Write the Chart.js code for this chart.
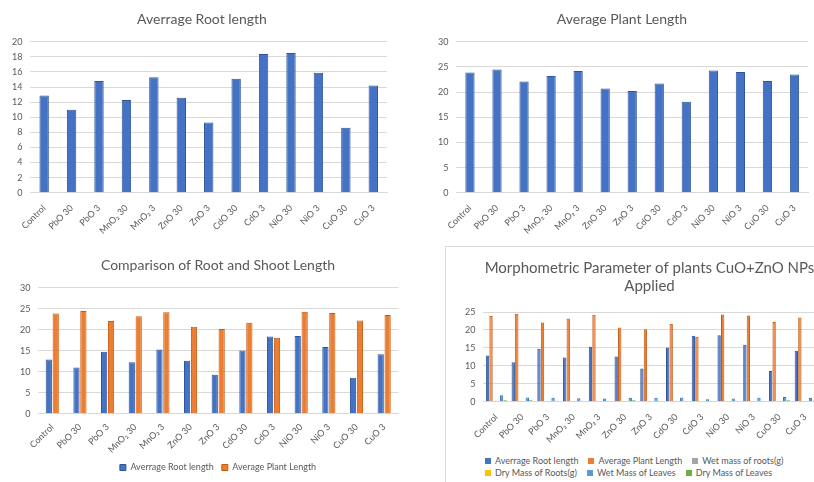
<!DOCTYPE html>
<html>
<head>
<meta charset="utf-8">
<script src="https://cdn.jsdelivr.net/npm/chart.js@4.4.1/dist/chart.umd.min.js"></script>
<style>
  body { margin: 0; width: 814px; height: 482px; overflow: hidden; position: relative; background: #fff; font-family: Lato, sans-serif; }
  .pane { position: absolute; }
  #frame { position: absolute; left: 445px; top: 246px; width: 420px; height: 260px; border: 1px solid #d9d9d9; }
  #legend4 { position: absolute; left: 485px; top: 455px; width: 320px; display: flex; flex-wrap: wrap; font-size: 9px; color: #595959; row-gap: 1px; }
  #legend4 span.item { display: inline-flex; align-items: center; margin-right: 10px; white-space: nowrap; }
  #legend4 span.sw { display: inline-block; width: 6px; height: 6px; margin-right: 4px; }
</style>
</head>
<body>
<div id="frame"></div>
<div class="pane" style="left:0;top:0;width:400px;height:240px"><canvas id="rootChart"></canvas></div>
<div class="pane" style="left:430px;top:0;width:384px;height:240px"><canvas id="plantChart"></canvas></div>
<div class="pane" style="left:0;top:240px;width:424px;height:242px"><canvas id="compareChart"></canvas></div>
<div class="pane" style="left:446px;top:247px;width:396px;height:200px"><canvas id="morphChart"></canvas></div>
<div id="legend4"></div>
<script>
// dane
const categories = ['Control', 'PbO 30', 'PbO 3', 'MnO₂ 30', 'MnO₂ 3', 'ZnO 30', 'ZnO 3', 'CdO 30', 'CdO 3', 'NiO 30', 'NiO 3', 'CuO 30', 'CuO 3'];
const rootLength = [12.9, 11.0, 14.8, 12.3, 15.3, 12.6, 9.3, 15.1, 18.4, 18.5, 15.9, 8.6, 14.2];
const plantLength = [23.9, 24.5, 22.1, 23.2, 24.2, 20.7, 20.2, 21.7, 18.1, 24.3, 24.0, 22.2, 23.5];
const wetMassRoots = [0.3, 0.2, 0.2, 0.2, 0.2, 0.2, 0.2, 0.2, 0.1, 0.2, 0.2, 0.2, 0.2];
const dryMassRoots = [0.1, 0.1, 0.1, 0.1, 0.1, 0.1, 0.1, 0.1, 0.05, 0.1, 0.1, 0.1, 0.1];
const wetMassLeaves = [1.8, 1.2, 1.1, 1.0, 0.9, 1.1, 1.1, 1.2, 0.7, 0.9, 1.1, 1.3, 1.1];
const dryMassLeaves = [0.4, 0.4, 0.3, 0.3, 0.3, 0.4, 0.3, 0.3, 0.2, 0.3, 0.3, 0.4, 0.3];

const gray = '#595959';
const gridColor = '#d9d9d9';
const tickFont = { family: 'Lato', size: 9 };

function axes(max, step, rightGap, xPad) {
  return {
    x: {
      grid: { display: false },
      border: { color: gridColor },
      ticks: { color: gray, font: tickFont, minRotation: 45, maxRotation: 45, autoSkip: false, padding: xPad }
    },
    y: {
      min: 0, max: max,
      grid: { color: gridColor, drawTicks: false },
      border: { display: false },
      ticks: { color: gray, font: tickFont, stepSize: step, padding: 8 }
    },
    pad: {
      position: 'right',
      display: true,
      grid: { display: false },
      border: { display: false },
      ticks: { display: false },
      afterFit: (s) => { s.width = rightGap; }
    }
  };
}

function title(text, top, bottom) {
  return {
    display: true,
    text: text,
    color: gray,
    font: { family: 'Lato', size: 14, weight: 'normal' },
    padding: { top: top, bottom: bottom }
  };
}

//AVERAGE ROOT LENGTH//////////////////////////////
new Chart(document.getElementById('rootChart'), {
  type: 'bar',
  data: {
    labels: categories,
    datasets: [{
      label: 'Averrage Root length',
      data: rootLength,
      backgroundColor: '#4472c4',
      borderColor: '#2f5597',
      borderWidth: 1,
      barPercentage: 0.9,
      categoryPercentage: 0.38
    }]
  },
  options: {
    responsive: true, maintainAspectRatio: false, animation: false,
    layout: { padding: { left: 4, bottom: 2 } },
    scales: axes(20, 2, 13, 2),
    plugins: { legend: { display: false }, title: title('Averrage Root length', 11, 14), tooltip: { enabled: false } }
  }
});

//AVERAGE PLANT LENGTH//////////////////////////////
new Chart(document.getElementById('plantChart'), {
  type: 'bar',
  data: {
    labels: categories,
    datasets: [{
      label: 'Average Plant Length',
      data: plantLength,
      backgroundColor: '#4472c4',
      borderColor: '#2f5597',
      borderWidth: 1,
      barPercentage: 0.9,
      categoryPercentage: 0.38
    }]
  },
  options: {
    responsive: true, maintainAspectRatio: false, animation: false,
    layout: { padding: { left: 0, bottom: 2 } },
    scales: axes(30, 5, 6, 2),
    plugins: { legend: { display: false }, title: title('Average Plant Length', 11, 14), tooltip: { enabled: false } }
  }
});

//COMPARISON//////////////////////////////
new Chart(document.getElementById('compareChart'), {
  type: 'bar',
  data: {
    labels: categories,
    datasets: [
      {
        label: 'Averrage Root length',
        data: rootLength,
        backgroundColor: '#4472c4',
        borderColor: '#2f5597',
        borderWidth: 1,
        barPercentage: 0.9,
        categoryPercentage: 0.5
      },
      {
        label: 'Average Plant Length',
        data: plantLength,
        backgroundColor: '#ed7d31',
        borderColor: '#c55a11',
        borderWidth: 1,
        barPercentage: 0.9,
        categoryPercentage: 0.5
      }
    ]
  },
  options: {
    responsive: true, maintainAspectRatio: false, animation: false,
    layout: { padding: { left: 12, bottom: 0 } },
    scales: axes(30, 5, 26, 0),
    plugins: {
      legend: {
        position: 'bottom',
        labels: { color: gray, font: { family: 'Lato', size: 9 }, boxWidth: 6, boxHeight: 6, padding: 8 }
      },
      title: title('Comparison of Root and Shoot Length', 17, 14),
      tooltip: { enabled: false }
    }
  }
});

//MORPHOMETRIC//////////////////////////////
const morphChart = new Chart(document.getElementById('morphChart'), {
  type: 'bar',
  data: {
    labels: categories,
    datasets: [
      { label: 'Averrage Root length', data: rootLength, backgroundColor: '#4472c4', borderColor: '#2f5597' },
      { label: 'Average Plant Length', data: plantLength, backgroundColor: '#ed7d31', borderColor: '#c55a11' },
      { label: 'Wet mass of roots(g)', data: wetMassRoots, backgroundColor: '#a5a5a5', borderColor: '#7f7f7f' },
      { label: 'Dry Mass of Roots(g)', data: dryMassRoots, backgroundColor: '#ffc000', borderColor: '#bf9000' },
      { label: 'Wet Mass of Leaves', data: wetMassLeaves, backgroundColor: '#5b9bd5', borderColor: '#2e75b6' },
      { label: 'Dry Mass of Leaves', data: dryMassLeaves, backgroundColor: '#70ad47', borderColor: '#548235' }
    ]
  },
  options: {
    responsive: true, maintainAspectRatio: false, animation: false,
    datasets: { bar: { borderWidth: 1, barPercentage: 0.95, categoryPercentage: 0.82 } },
    layout: { padding: { left: 11, bottom: 0 } },
    scales: axes(25, 5, 24, 2),
    plugins: {
      legend: { display: false },
      title: {
        display: true,
        text: ['Morphometric Parameter of plants CuO+ZnO NPs', 'Applied'],
        color: gray,
        font: { family: 'Lato', size: 15, weight: 'normal' },
        padding: { top: 12, bottom: 17 }
      },
      tooltip: { enabled: false }
    }
  }
});

// legenda html dla wykresu 4
const legend4 = document.getElementById('legend4');
morphChart.data.datasets.forEach(ds => {
  const item = document.createElement('span');
  item.className = 'item';
  item.innerHTML = '<span class="sw" style="background:' + ds.backgroundColor + '"></span>' + ds.label;
  legend4.appendChild(item);
});
</script>
</body>
</html>
